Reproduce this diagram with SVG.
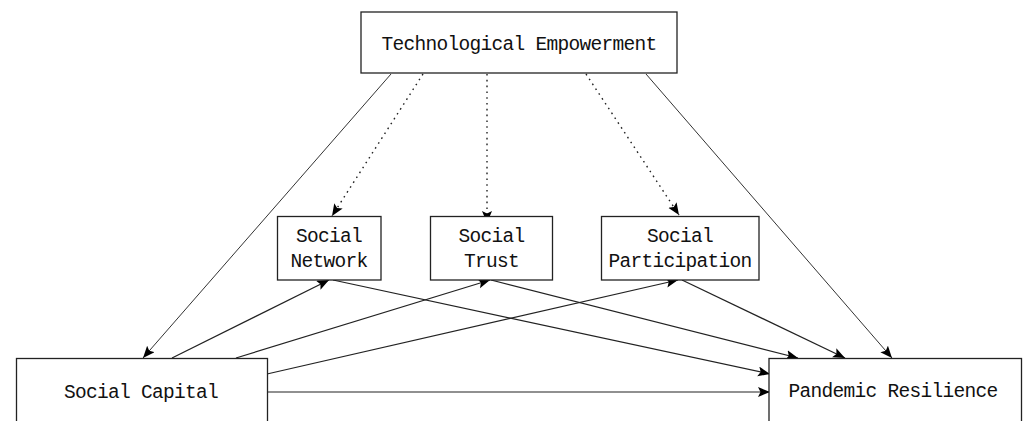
<svg xmlns="http://www.w3.org/2000/svg" width="1023" height="421" viewBox="0 0 1023 421">
<style>
.box{fill:#fff;stroke:#222;stroke-width:1.3}
.lbl{font-family:"Liberation Mono","DejaVu Sans Mono",monospace;font-size:19.5px;letter-spacing:-0.7px;fill:#111;text-anchor:middle}
.c{fill:none;stroke:#222;stroke-width:1.2;marker-end:url(#ah)}
.thin{stroke:#333;stroke-width:1}
.dot{stroke-dasharray:1.6 4.2;stroke-width:1.4}
</style>
<defs>
<marker id="ah" markerUnits="userSpaceOnUse" markerWidth="14" markerHeight="12" refX="12" refY="5" orient="auto">
<path d="M0,0 L12,5 L0,10 L2.5,5 z" fill="#000"/>
</marker>
</defs>
<rect width="1023" height="421" fill="#fff"/>
<g id="connectors">
<path class="c thin" d="M391,74 L143,358"/>
<path class="c thin" d="M646,74 L892,358"/>
<path class="c dot" d="M423,74 L332,216"/>
<path class="c dot" d="M487,74 L487,223"/>
<path class="c dot" d="M586,74 L679,215"/>
<path class="c" d="M172,358 L329,280"/>
<path class="c" d="M236,358 L490,280"/>
<path class="c" d="M267,374 L678,280"/>
<path class="c" d="M267,392 L770,392"/>
<path class="c" d="M333,280 L770,374"/>
<path class="c" d="M491,280 L798,358"/>
<path class="c" d="M682,280 L845,358"/>
</g>
<g id="tech">
<rect class="box" x="361" y="12" width="316" height="61"/>
<text class="lbl" x="519" y="50">Technological Empowerment</text>
</g>
<g id="network">
<rect class="box" x="277.5" y="216.5" width="103.5" height="63.5"/>
<text class="lbl" x="329" y="242">Social</text>
<text class="lbl" x="329" y="267">Network</text>
</g>
<g id="trust">
<rect class="box" x="430.5" y="216.5" width="122" height="63.5"/>
<text class="lbl" x="491.5" y="242">Social</text>
<text class="lbl" x="491.5" y="267">Trust</text>
</g>
<g id="participation">
<rect class="box" x="601.5" y="216.5" width="157.5" height="63.5"/>
<text class="lbl" x="680" y="242">Social</text>
<text class="lbl" x="680" y="267">Participation</text>
</g>
<g id="capital">
<rect class="box" x="16.5" y="358.5" width="251" height="80"/>
<text class="lbl" x="141" y="398">Social Capital</text>
</g>
<g id="resilience">
<rect class="box" x="769" y="358.5" width="252.5" height="80"/>
<text class="lbl" x="893" y="397">Pandemic Resilience</text>
</g>
</svg>
